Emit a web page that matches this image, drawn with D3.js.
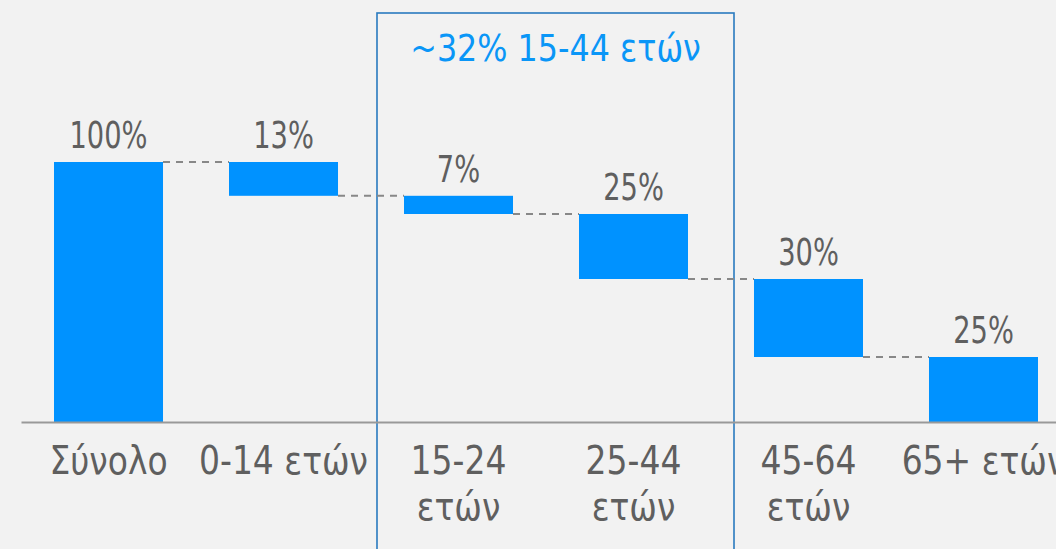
<!DOCTYPE html>
<html>
<head>
<meta charset="utf-8">
<script src="https://cdn.jsdelivr.net/npm/d3@7"></script>
<style>
  html, body { margin: 0; padding: 0; background: #f2f2f2; }
  svg { display: block; }
  text { font-family: "Liberation Sans Narrow", "DejaVu Sans Condensed", "Liberation Sans", sans-serif; }
</style>
</head>
<body>
<svg id="chart" width="1056" height="549"></svg>
<script>
// ---- data ----
const categories = ["Σύνολο", "0-14 ετών", "15-24 ετών", "25-44 ετών", "45-64 ετών", "65+ ετών"];
const tickLines = [["Σύνολο"], ["0-14 ετών"], ["15-24", "ετών"], ["25-44", "ετών"], ["45-64", "ετών"], ["65+ ετών"]];
const values = [100, 13, 7, 25, 30, 25];
const valueLabels = ["100%", "13%", "7%", "25%", "30%", "25%"];
const highlightCats = ["15-24 ετών", "25-44 ετών"];
const highlightLabel = "~32% 15-44 ετών";

// waterfall segments
const segs = [];
let level = 0;
values.forEach((v, i) => {
  if (i === 0) { segs.push({cat: categories[i], y0: 0, y1: v, label: valueLabels[i]}); level = v; }
  else { segs.push({cat: categories[i], y0: level - v, y1: level, label: valueLabels[i]}); level -= v; }
});

const svg = d3.select("#chart");
const W = 1056, H = 549;
svg.append("rect").attr("width", W).attr("height", H).attr("fill", "#f2f2f2");

const x = d3.scaleBand().domain(categories).range([21, 1071]).paddingInner(0.3771).paddingOuter(0.1886);
const y = d3.scaleLinear().domain([0, 100]).range([422, 162]);

const blue = "#0092ff";

// highlight box
const bx0 = x(highlightCats[0]) - 27;
const bx1 = x(highlightCats[1]) + x.bandwidth() + 46;
svg.append("rect")
  .attr("x", bx0).attr("y", 13)
  .attr("width", bx1 - bx0).attr("height", H)
  .attr("fill", "none").attr("stroke", "#2a7abf").attr("stroke-width", 1.6);

svg.append("g")
  .attr("transform", `translate(${(bx0 + bx1) / 2},61) scale(0.93,1)`)
  .append("text")
  .attr("text-anchor", "middle")
  .attr("font-size", 38)
  .attr("fill", "#0a96f7")
  .text(highlightLabel);

// connectors
for (let i = 0; i < segs.length - 1; i++) {
  const lv = i === 0 ? segs[i].y1 : segs[i].y0;
  svg.append("line")
    .attr("x1", x(segs[i].cat) + x.bandwidth()).attr("x2", x(segs[i + 1].cat))
    .attr("y1", y(lv)).attr("y2", y(lv))
    .attr("stroke", "#888888").attr("stroke-width", 2)
    .attr("stroke-dasharray", "7,6");
}

// bars
svg.selectAll("rect.bar").data(segs).enter().append("rect")
  .attr("class", "bar")
  .attr("x", d => x(d.cat))
  .attr("y", d => y(d.y1))
  .attr("width", x.bandwidth())
  .attr("height", d => y(d.y0) - y(d.y1))
  .attr("fill", blue);

// value labels
svg.selectAll("g.val").data(segs).enter().append("g")
  .attr("class", "val")
  .attr("transform", d => `translate(${x(d.cat) + x.bandwidth() / 2},${y(d.y1) - 14}) scale(0.82,1)`)
  .append("text")
  .attr("text-anchor", "middle")
  .attr("font-size", 37)
  .attr("fill", "#5f5f5f")
  .text(d => d.label);

// axis
const axis = d3.axisBottom(x).tickSize(0).tickFormat("");
const ag = svg.append("g").attr("transform", "translate(0,422)").call(axis);
ag.select(".domain").attr("stroke", "#999999").attr("stroke-width", 2.2);

// tick labels
categories.forEach((c, i) => {
  const t = svg.append("g")
    .attr("transform", `translate(${x(c) + x.bandwidth() / 2},474) scale(0.94,1)`)
    .append("text")
    .attr("text-anchor", "middle")
    .attr("font-size", 39)
    .attr("fill", "#5f5f5f");
  tickLines[i].forEach((ln, j) => {
    t.append("tspan").attr("x", 0).attr("dy", j === 0 ? 0 : 46).text(ln);
  });
});
</script>
</body>
</html>
